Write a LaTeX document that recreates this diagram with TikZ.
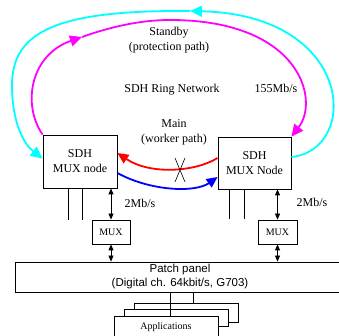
\documentclass[tikz,border=0pt]{standalone}
\usepackage{fontspec}
\setmainfont{Liberation Serif}
\newfontfamily\panelfont{Liberation Sans}
\usetikzlibrary{arrows.meta}
\definecolor{standbycyan}{RGB}{0,255,255}
\definecolor{standbymag}{RGB}{255,0,255}
\definecolor{mainred}{RGB}{255,0,0}
\definecolor{mainblue}{RGB}{0,0,255}
\begin{document}
\begin{tikzpicture}[x=1pt,y=1pt]
    \useasboundingbox (0,0) rectangle (339,336);
    \begin{scope}
        \tikzstyle{every node}=[fill=white, draw=black, rectangle, line width=0.8pt, inner sep=0pt, align=center, font=\fontsize{12}{15}\selectfont]
        \node[minimum width=74pt, minimum height=53pt] (nodeL) at (80,174.5) {SDH\\MUX node};
        \node[minimum width=73pt, minimum height=52pt] (nodeR) at (254.5,173) {SDH\\MUX Node};
        \node[minimum width=38pt, minimum height=24pt, font=\fontsize{10}{12}\selectfont] (muxL) at (111,104) {MUX};
        \node[minimum width=39pt, minimum height=24pt, font=\fontsize{10}{12}\selectfont] (muxR) at (277.5,104) {MUX};
        \node[minimum width=330pt, minimum height=30pt, font=\panelfont\fontsize{11.5}{14}\selectfont] (patch) at (180,59) {Patch panel\\(Digital ch. 64kbit/s, G703)};
        \node[minimum width=104pt, minimum height=19pt] (app3) at (186,23.5) {};
        \node[minimum width=104pt, minimum height=17pt] (app2) at (176,18.5) {};
        \node[minimum width=104pt, minimum height=22pt, font=\fontsize{10}{12}\selectfont] (app1) at (166,9) {Applications};
    \end{scope}
    \begin{scope}
        \tikzstyle{every node}=[font=\fontsize{12}{15}\selectfont, align=center]
        \node (standby) at (169,295.5) {Standby\\(protection path)};
        \node (ring) at (172,246) {SDH Ring Network};
        \node (rate) at (276,248) {155Mb/s};
        \node (main) at (174,203.5) {Main\\(worker path)};
        \node (rateL) at (140,133) {2Mb/s};
        \node (rateR) at (312,134) {2Mb/s};
    \end{scope}
    \coordinate (cy) at (190,325);
    \coordinate (cyl) at (12,251);
    \coordinate (mg) at (82,299);
    \coordinate (mgt) at (170,316);
    \coordinate (cut) at (180,166);
    % protection ring
    \begin{scope}
        \tikzstyle{every path}=[line width=1.8pt, -{Triangle[length=12pt,width=11pt]}]
        \draw[standbycyan] ([yshift=6pt]nodeR.east) .. controls (360,186) and (355,321) .. (cy);
        \draw[standbycyan] (cy) .. controls (60,326) and (12,306) .. (cyl) .. controls (12,211) and (25,191) .. ([yshift=3pt]nodeL.west);
        \draw[standbymag] (nodeL.north west) .. controls (22,231) and (30,281) .. (mg);
        \draw[standbymag] (mg) .. controls (110,309) and (140,316) .. (mgt) .. controls (300,316) and (320,236) .. (nodeR.north east);
    \end{scope}
    % worker path
    \begin{scope}
        \tikzstyle{every path}=[line width=1.8pt, -{Triangle[length=11pt,width=10pt]}]
        \draw[mainred] ([yshift=5pt]nodeR.west) .. controls (195,164) and (150,161) .. ([yshift=8.5pt]nodeL.east);
        \draw[mainblue] ([yshift=-11.5pt]nodeL.east) .. controls (150,145) and (195,143) .. ([yshift=-14pt]nodeR.west);
    \end{scope}
    \draw[line width=0.6pt] ([shift={(-5pt,12pt)}]cut) -- ([shift={(5pt,-12pt)}]cut)
        ([shift={(5pt,12pt)}]cut) -- ([shift={(-5pt,-12pt)}]cut);
    \begin{scope}
        \tikzstyle{every edge}=[draw, line width=0.8pt, {Triangle[length=6pt,width=5pt]}-{Triangle[length=6pt,width=5pt]}]
        \path
        (muxL.north |- nodeL.south) edge[] (muxL.north)
        (muxR.north |- nodeR.south) edge[] (muxR.north)
        (muxL.south) edge[] (muxL.south |- patch.north)
        (muxR.south) edge[] (muxR.south |- patch.north);
    \end{scope}
    \begin{scope}
        \tikzstyle{every edge}=[draw, line width=0.8pt]
        \path
        ([xshift=-12pt]nodeL.south) edge[] ++(0,-32)
        ([xshift=2pt]nodeL.south) edge[] ++(0,-32)
        ([xshift=-25.5pt]nodeR.south) edge[] ++(0,-30)
        ([xshift=-10.5pt]nodeR.south) edge[] ++(0,-30)
        ([xshift=4pt]app1.north) edge[] ([xshift=4pt]app1.north |- patch.south)
        ([xshift=7pt]app3.north) edge[] ([xshift=7pt]app3.north |- patch.south);
    \end{scope}
\end{tikzpicture}
\end{document}
